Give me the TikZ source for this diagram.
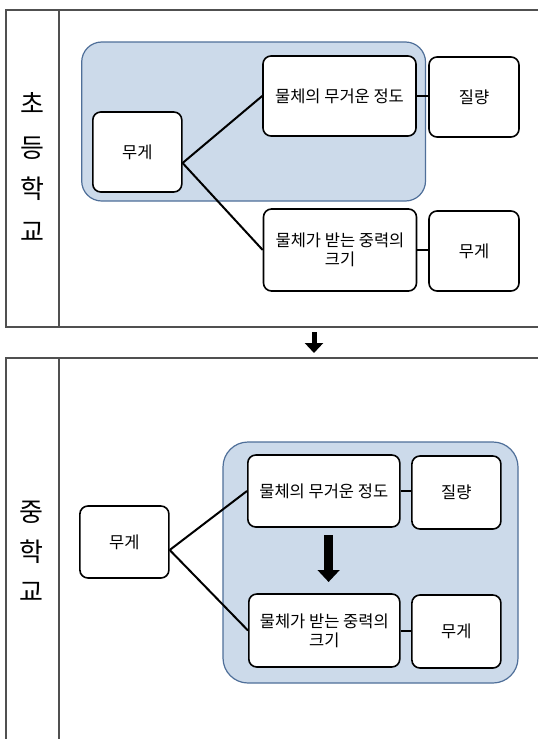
\documentclass[tikz,border=0pt]{standalone}
\usepackage{fontspec}
\setmainfont{Noto Sans CJK KR}
\usetikzlibrary{arrows.meta,calc}
\definecolor{framegray}{HTML}{505050}
\definecolor{groupfill}{HTML}{CCDAEA}
\definecolor{groupedge}{HTML}{4F6F99}
\tikzset{
  box/.style={draw=black, line width=1.6pt, rounded corners=8pt, fill=white, align=center,
    inner sep=0pt, font=\fontsize{16.5}{19}\selectfont},
  grp/.style={draw=groupedge, line width=1.2pt, fill=groupfill},
  frm/.style={draw=framegray, line width=1.5pt},
  link/.style={draw=black, line width=2pt},
  side/.style={font=\fontsize{26}{26}\selectfont, inner sep=0pt},
  bigarrow/.style={line width=5pt, -{Triangle[width=18pt,length=10pt]}},
  innerarrow/.style={line width=8.6pt, -{Triangle[width=21.6pt,length=12pt]}}
}
\begin{document}
\begin{tikzpicture}[x=1pt,y=-1pt]
\useasboundingbox (0,0) rectangle (538,739);
\fill[white] (0,0) rectangle (538,739);

% ---------- top frame ----------
\draw[frm] (538,10) -- (6,10) -- (6,327) -- (538,327);
\draw[frm] (59,10) -- (59,327);
\node[side] (s1) at (32.6,103) {초};
\node[side] (s2) at (32.6,148) {등};
\node[side] (s3) at (32.6,189) {학};
\node[side] (s4) at (32.6,232) {교};

\draw[grp, rounded corners=20pt] (81.7,42) rectangle (425.5,201);

\node[box, minimum width=89pt, minimum height=80pt] (tw) at (137.3,152) {무게};
\node[box, minimum width=153pt, minimum height=80pt] (tm1) at (339.5,96) {물체의 무거운 정도};
\node[box, minimum width=90pt, minimum height=80pt] (tq) at (474,97) {질량};
\node[box, minimum width=153pt, minimum height=82pt] (tm2) at (340,250) {물체가 받는 중력의\\크기};
\node[box, minimum width=90pt, minimum height=80pt] (tw2) at (474,251) {무게};

\coordinate (tj) at ([yshift=-11pt]tw.east);
\draw[link] (tj) -- (tm1.west);
\draw[link] (tj) -- (tm2.west);
\draw[link] (tm1.east) -- (tm1.east -| tq.west);
\draw[link] (tm2.east) -- (tm2.east -| tw2.west);

% ---------- arrow between frames ----------
\coordinate (a1) at (314,332);
\coordinate (a2) at (314,353);
\draw[bigarrow] (a1) -- (a2);

% ---------- bottom frame ----------
\draw[frm] (538,358) -- (6,358) -- (6,739);
\draw[frm] (59,358) -- (59,739);
\node[side] (m1) at (31,512) {중};
\node[side] (m2) at (31,552) {학};
\node[side] (m3) at (31,592) {교};

\draw[grp, rounded corners=25pt] (223,442) rectangle (518,683);

\node[box, minimum width=89pt, minimum height=72pt] (bw) at (124.4,542) {무게};
\node[box, minimum width=152pt, minimum height=72pt] (bm1) at (323.8,491) {물체의 무거운 정도};
\node[box, minimum width=89pt, minimum height=73pt] (bq) at (456.4,492.5) {질량};
\node[box, minimum width=151pt, minimum height=73pt] (bm2) at (324.3,630.5) {물체가 받는 중력의\\크기};
\node[box, minimum width=89pt, minimum height=73pt] (bw2) at (456.4,631.5) {무게};

\coordinate (bj) at ([yshift=-8pt]bw.east);
\draw[link] (bj) -- (bm1.west);
\draw[link] (bj) -- (bm2.west);
\draw[link] (bm1.east) -- (bm1.east -| bq.west);
\draw[link] (bm2.east) -- (bm2.east -| bw2.west);

\coordinate (i1) at (328.6,535);
\coordinate (i2) at (328.6,582);
\draw[innerarrow] (i1) -- (i2);
\end{tikzpicture}
\end{document}
